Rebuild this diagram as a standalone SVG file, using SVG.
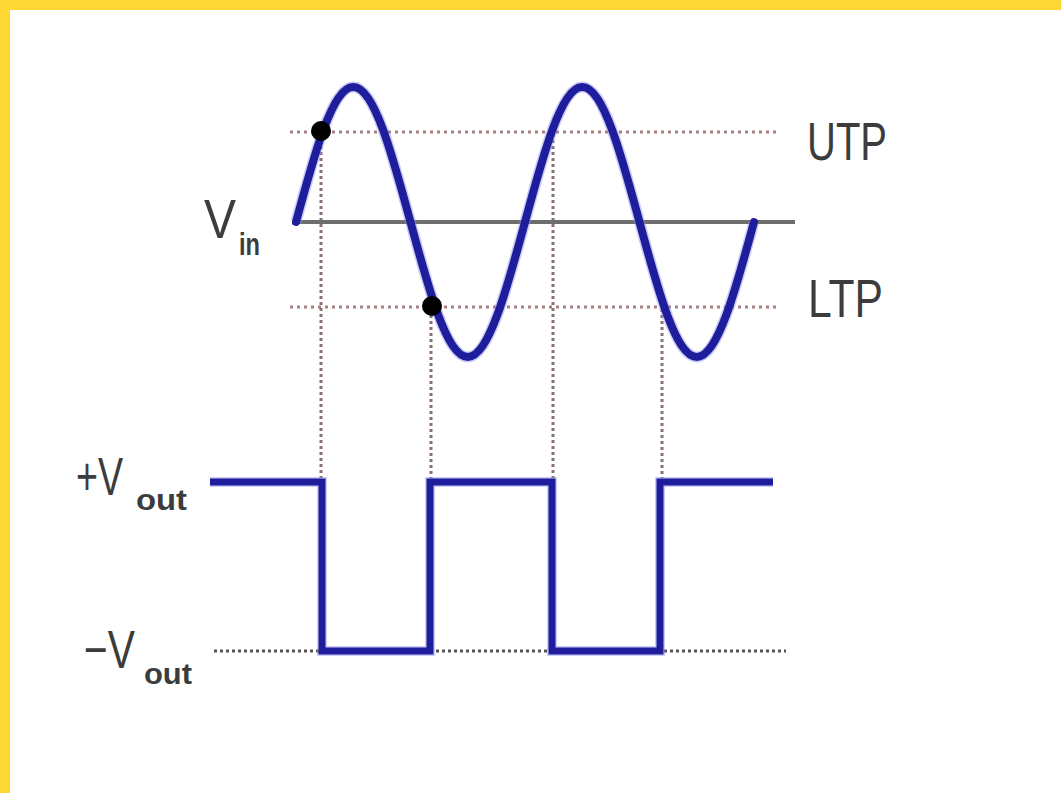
<svg xmlns="http://www.w3.org/2000/svg" width="1061" height="793" viewBox="0 0 1061 793">
  <style>
    .lbl { font-family: "Liberation Sans", Arial, sans-serif; fill: #3c3c3c; }
    .sub { font-family: "Liberation Sans", Arial, sans-serif; fill: #3c3c3c; font-weight: bold; }
    .guide { fill: none; stroke: #a88080; stroke-width: 3; stroke-dasharray: 3 4; }
    .vdot { fill: none; stroke: #8a7070; stroke-width: 3; stroke-dasharray: 3 3; }
    .halo { fill: none; stroke: #8c8cf0; stroke-width: 11; stroke-opacity: 0.45; stroke-linejoin: round; }
    .wave { fill: none; stroke: #1e1e9c; stroke-width: 8; stroke-linejoin: round; stroke-linecap: round; }
    .sq-halo { fill: none; stroke: #8c8cf0; stroke-width: 10; stroke-opacity: 0.45; stroke-linejoin: miter; }
    .sq { fill: none; stroke: #1e1e9c; stroke-width: 7; stroke-linejoin: miter; }
  </style>
  <rect x="0" y="0" width="1061" height="793" fill="#ffffff"/>
  <g id="frame">
    <rect x="0" y="0" width="1061" height="10" fill="#FDD835"/>
    <rect x="0" y="0" width="10" height="793" fill="#FDD835"/>
  </g>
  <g id="connectors">
    <line class="guide" x1="290" y1="132" x2="776" y2="132"/>
    <line class="guide" x1="290" y1="307" x2="776" y2="307"/>
    <line class="vdot" x1="321" y1="140" x2="321" y2="478"/>
    <line class="vdot" x1="431" y1="315" x2="431" y2="478"/>
    <line class="vdot" x1="553" y1="134" x2="553" y2="478"/>
    <line class="vdot" x1="662" y1="309" x2="662" y2="478"/>
    <line x1="214" y1="651" x2="786" y2="651" stroke="#555555" stroke-width="3" stroke-dasharray="3 3"/>
    <line x1="296" y1="222" x2="795" y2="222" stroke="#6e6e6e" stroke-width="4"/>
  </g>
  <g id="vin-wave">
    <path class="halo" d="M296,222 C314.67,152.84 332.53,87 353.25,87 C373.97,87 391.83,152.84 410.5,222 C429.17,291.16 447.03,357 467.75,357 C488.47,357 506.33,291.16 525,222 C543.67,152.84 561.53,87 582.25,87 C602.97,87 620.83,152.84 639.5,222 C658.17,291.16 676.03,357 696.75,357 C717.47,357 735.33,291.16 754,222"/>
    <path class="wave" d="M296,222 C314.67,152.84 332.53,87 353.25,87 C373.97,87 391.83,152.84 410.5,222 C429.17,291.16 447.03,357 467.75,357 C488.47,357 506.33,291.16 525,222 C543.67,152.84 561.53,87 582.25,87 C602.97,87 620.83,152.84 639.5,222 C658.17,291.16 676.03,357 696.75,357 C717.47,357 735.33,291.16 754,222"/>
  </g>
  <g id="trigger-points">
    <circle cx="321" cy="131" r="10" fill="#000000"/>
    <circle cx="432" cy="306" r="10" fill="#000000"/>
  </g>
  <g id="vout-wave">
    <path class="sq-halo" d="M210,482 H322 V651 H430 V482 H552 V651 H660 V482 H773"/>
    <path class="sq" d="M210,482 H322 V651 H430 V482 H552 V651 H660 V482 H773"/>
  </g>
  <g id="label-vin">
    <text class="lbl" x="204" y="238" font-size="55" textLength="32" lengthAdjust="spacingAndGlyphs">V</text>
    <text class="sub" x="239" y="255" font-size="32" textLength="21" lengthAdjust="spacingAndGlyphs">in</text>
  </g>
  <g id="label-utp">
    <text class="lbl" x="807" y="160" font-size="53" textLength="80" lengthAdjust="spacingAndGlyphs">UTP</text>
  </g>
  <g id="label-ltp">
    <text class="lbl" x="808" y="317" font-size="54" textLength="75" lengthAdjust="spacingAndGlyphs">LTP</text>
  </g>
  <g id="label-pos-vout">
    <text class="lbl" x="76" y="495" font-size="53" textLength="47" lengthAdjust="spacingAndGlyphs">+V</text>
    <text class="sub" x="136" y="510" font-size="30" textLength="51" lengthAdjust="spacingAndGlyphs">out</text>
  </g>
  <g id="label-neg-vout">
    <text class="lbl" x="84" y="668" font-size="53" textLength="51" lengthAdjust="spacingAndGlyphs">−V</text>
    <text class="sub" x="144" y="684" font-size="30" textLength="48" lengthAdjust="spacingAndGlyphs">out</text>
  </g>
</svg>
